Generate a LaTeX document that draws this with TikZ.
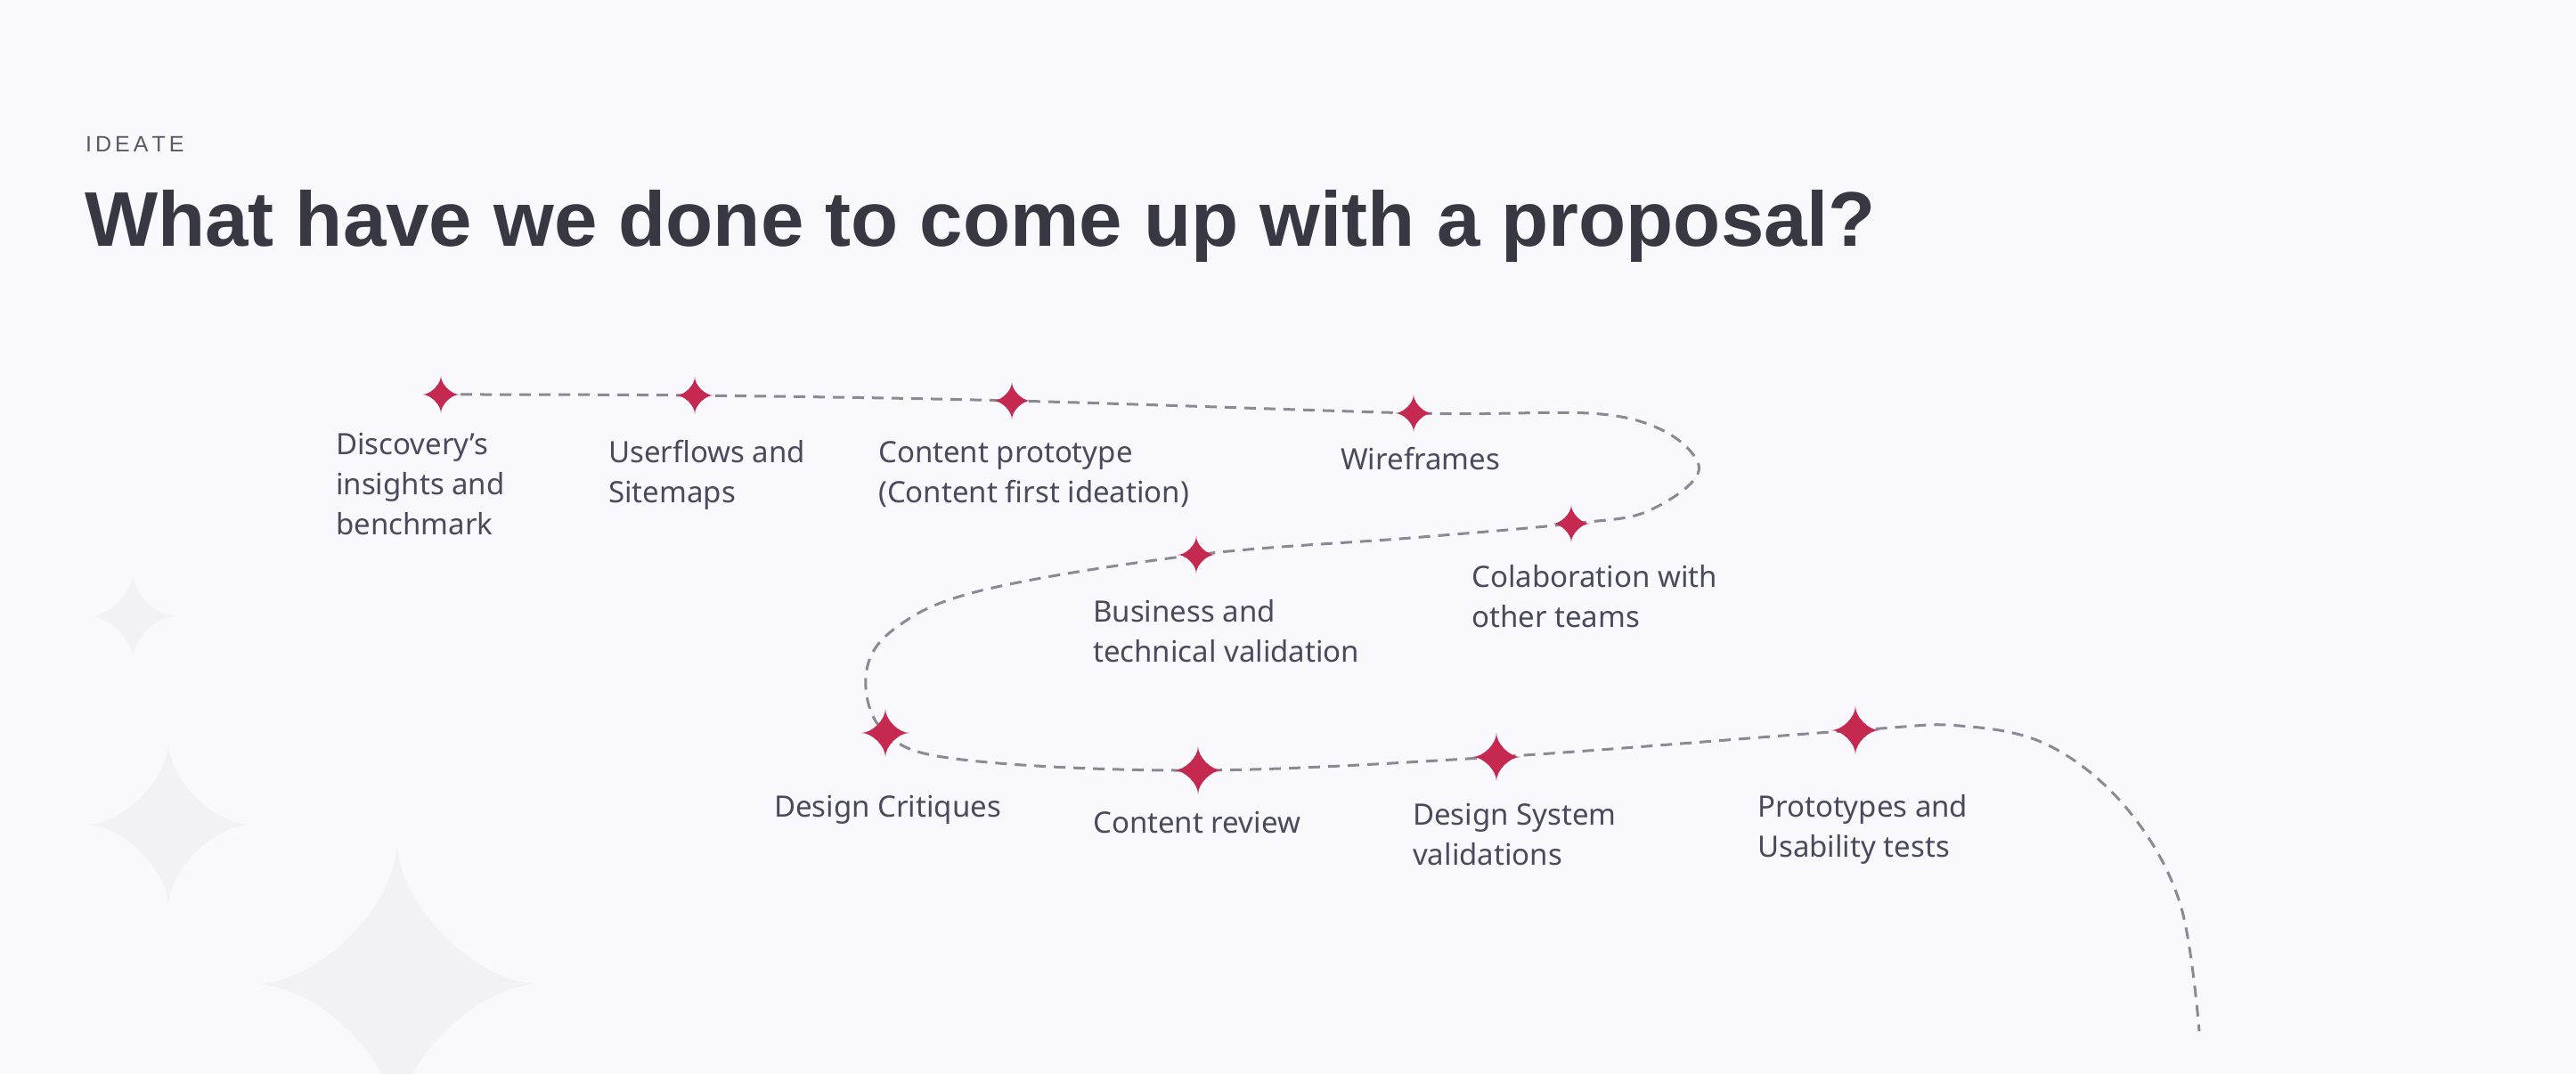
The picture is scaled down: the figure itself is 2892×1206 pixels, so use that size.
\documentclass[tikz,border=0pt]{standalone}
\usepackage{fontspec}
\setmainfont{Noto Sans}
\newfontfamily\headfont{Liberation Sans}
\definecolor{bgc}{HTML}{F8F8FD}
\definecolor{bgstar}{HTML}{F1F1F6}
\definecolor{starred}{HTML}{C6294F}
\definecolor{dashc}{HTML}{8A8A96}
\definecolor{txt}{HTML}{4A4A5C}
\definecolor{titlec}{HTML}{383842}
\definecolor{kickc}{HTML}{5A5A66}
\newcommand\sparkle[3]{%
  \fill[#3,shift={(#1)}] (0,-#2) .. controls (0,-0.55*#2) and (0.55*#2,0) .. (#2,0)
    .. controls (0.55*#2,0) and (0,0.55*#2) .. (0,#2)
    .. controls (0,0.55*#2) and (-0.55*#2,0) .. (-#2,0)
    .. controls (-0.55*#2,0) and (0,-0.55*#2) .. cycle;}
\newcommand\lines[1]{\begin{tabular}[t]{@{}l@{}}#1\end{tabular}}
\begin{document}
\begin{tikzpicture}[x=1pt,y=-1pt,
  lbl/.style={anchor=base west, inner sep=0pt, text=txt,
    font=\fontsize{33}{45}\selectfont},
  dashline/.style={draw=dashc, line width=3pt, dash pattern=on 13pt off 9pt}]
\fill[bgc] (0,0) rectangle (2892,1206);
\useasboundingbox (0,0) rectangle (2892,1206);
% background sparkles
\coordinate (g1) at (149,692);
\coordinate (g2) at (189,926);
\coordinate (g3) at (446,1105);
\sparkle{g1}{48}{bgstar}
\sparkle{g2}{93}{bgstar}
\sparkle{g3}{161}{bgstar}
% headings
\node[anchor=base west, inner sep=0pt, text=kickc, font=\headfont\fontsize{25}{30}\selectfont] (kicker) at (96,171)
  {I\kern4pt D\kern4pt E\kern4pt A\kern4pt T\kern4pt E};
\node[anchor=base west, inner sep=0pt, text=titlec, font=\headfont\bfseries\fontsize{87}{100}\selectfont] (title) at (95,277)
  {What have we done to come up with a proposal?};
% milestones
\coordinate (s1) at (495,443);
\coordinate (s2) at (780,444);
\coordinate (s3) at (1136,450);
\coordinate (s4) at (1587,464);
\coordinate (s5) at (1764,588);
\coordinate (s6) at (1343,623);
\coordinate (s7) at (994,823);
\coordinate (s8) at (1345,865);
\coordinate (s9) at (1680,850);
\coordinate (s10) at (2083,820);
% bends
\coordinate (r1) at (1820,468);
\coordinate (r2) at (1907,522);
\coordinate (r3) at (1852,573);
\coordinate (c1) at (1584,604);
\coordinate (l1) at (1102,663);
\coordinate (l2) at (1003,707);
\coordinate (l3) at (972,760);
\coordinate (b1) at (1080,853);
\coordinate (e1) at (2200,815);
\coordinate (e2) at (2300,837);
\coordinate (e3) at (2387,907);
\coordinate (e4) at (2447,1013);
\coordinate (e5) at (2469,1158);
\draw[dashline] plot[smooth,tension=0.6] coordinates {(s1) (s2) (s3) (s4) (r1) (r2) (r3) (s5) (c1) (s6) (l1) (l2) (l3) (s7) (b1) (s8) (s9) (s10) (e1) (e2) (e3) (e4) (e5)};
\foreach \s in {s1,s2,s3,s4,s5,s6}{\sparkle{\s}{21}{starred}}
\foreach \s in {s7,s8,s9,s10}{\sparkle{\s}{27}{starred}}
% labels
\node[lbl] (t1) at (377,510) {\lines{Discovery’s\\insights and\\benchmark}};
\node[lbl] (t2) at (683,519) {\lines{Userflows and\\Sitemaps}};
\node[lbl] (t3) at (986,519) {\lines{Content prototype\\(Content first ideation)}};
\node[lbl] (t4) at (1505,527) {Wireframes};
\node[lbl] (t5) at (1652,659) {\lines{Colaboration with\\other teams}};
\node[lbl] (t6) at (1227,698) {\lines{Business and\\technical validation}};
\node[lbl] (t7) at (869,917) {Design Critiques};
\node[lbl] (t8) at (1227,935) {Content review};
\node[lbl] (t9) at (1586,926) {\lines{Design System\\validations}};
\node[lbl] (t10) at (1973,917) {\lines{Prototypes and\\Usability tests}};
\end{tikzpicture}
\end{document}
